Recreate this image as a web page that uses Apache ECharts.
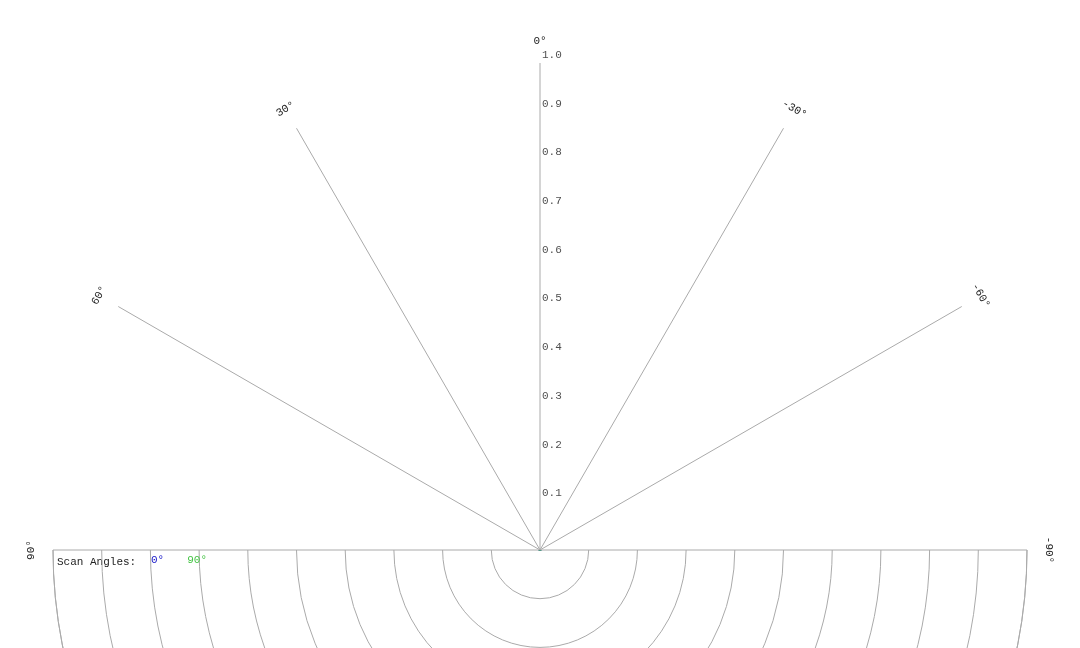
<!DOCTYPE html>
<html>
<head>
<meta charset="utf-8">
<script src="https://cdn.jsdelivr.net/npm/echarts@6/dist/echarts.min.js"></script>
<style>
  html, body { margin: 0; padding: 0; background: #fff; }
  #chart { width: 1080px; height: 648px; }
</style>
</head>
<body>
<div id="chart"></div>
<script>
// scan 0 deg (blue), [angle, radius]
const scan0 = [
  [-90, 0], [-58, 0], [-56, 0.15], [-54.8, 0.285], [-51.5, 0.319], [-48.4, 0.33], [-45, 0.318],
  [-42.3, 0.305], [-37, 0.30], [-32.6, 0.292], [-27, 0.297], [-22.3, 0.289], [-18, 0.30],
  [-14, 0.282], [-11, 0.31], [-8.6, 0.322], [-5.4, 0.292], [-3, 0.30], [0, 0.308], [2.6, 0.305],
  [5, 0.31], [7.9, 0.30], [12, 0.295], [16.1, 0.296], [20, 0.29], [23.6, 0.291], [28, 0.285],
  [32.1, 0.283], [35, 0.295], [38.5, 0.297], [42, 0.31], [45.2, 0.318], [48, 0.32], [50.3, 0.316],
  [52.5, 0.29], [54, 0.2], [55, 0.1], [57, 0], [90, 0]
];
// scan 90 deg (green)
const scan90 = [
  [-90, 0], [-58, 0], [-55.5, 0.1], [-54.5, 0.25], [-53.5, 0.392], [-52.3, 0.493], [-51.3, 0.597],
  [-49.8, 0.70], [-48.5, 0.795], [-46.6, 0.896], [-44.7, 0.963], [-43.9, 0.978], [-43.2, 0.98],
  [-41.1, 0.958], [-38.3, 0.906], [-34.4, 0.80], [-30.5, 0.695], [-26, 0.594], [-23.2, 0.521],
  [-21.6, 0.47], [-20, 0.45], [-18.5, 0.43], [-17, 0.42], [-15.5, 0.39], [-13.5, 0.353],
  [-10.2, 0.31], [-6.8, 0.315], [-4.7, 0.30], [-1, 0.333], [1, 0.31], [2.7, 0.305], [4.2, 0.336],
  [6, 0.31], [9.7, 0.305], [13.1, 0.316], [15.9, 0.375], [18.9, 0.445], [21, 0.49], [24.3, 0.548],
  [29.9, 0.699], [34.1, 0.794], [37.8, 0.905], [41.5, 0.98], [42.8, 0.997], [44.2, 1.0],
  [45.3, 0.987], [46.2, 0.958], [47.5, 0.89], [48.8, 0.80], [50.2, 0.695], [51.5, 0.594],
  [52.8, 0.498], [54.1, 0.397], [55, 0.25], [55.8, 0.1], [58, 0], [90, 0]
];
const radiusTicks = [0.1, 0.2, 0.3, 0.4, 0.5, 0.6, 0.7, 0.8, 0.9, 1.0];
const angleTicks = [90, 60, 30, 0, -30, -60, -90];
const seriesNames = ['0°', '90°'];
const colors = ['#1414c8', '#44c444'];

const cx = 540, cy = 550, R = 487;
const font = '"Liberation Mono", "DejaVu Sans Mono", monospace';

const chart = echarts.init(document.getElementById('chart'));

const angleLabels = angleTicks.map((a) => {
  const rad = a * Math.PI / 180;
  const d = R + 22;
  return {
    type: 'text',
    x: cx - d * Math.sin(rad),
    y: cy - d * Math.cos(rad),
    rotation: rad,
    style: { text: a + '°', font: '11px ' + font, fill: '#222', align: 'center', verticalAlign: 'middle' }
  };
});

chart.setOption({
  animation: false,
  polar: { center: [cx, cy], radius: R },
  angleAxis: {
    type: 'value', min: -90, max: 90, interval: 30, startAngle: 0, endAngle: 180,
    axisLine: { lineStyle: { color: '#aaa' } },
    axisTick: { show: false },
    axisLabel: { show: false },
    splitLine: { lineStyle: { color: '#aaa' } }
  },
  radiusAxis: {
    type: 'value', min: 0, max: 1, interval: 0.1,
    axisLine: { show: false }, axisTick: { show: false }, axisLabel: { show: false },
    splitLine: { lineStyle: { color: '#aaa' } }
  },
  legend: {
    left: 146, top: 553, icon: 'none', itemWidth: 0, itemGap: 18, padding: 0,
    textStyle: { fontFamily: font, fontSize: 11 },
    data: seriesNames.map((n, i) => ({ name: n, textStyle: { color: colors[i] } }))
  },
  graphic: angleLabels.concat([{
    type: 'text', left: 57, top: 557,
    style: { text: 'Scan Angles:', font: '11px ' + font, fill: '#222' }
  }]),
  series: [
    {
      name: seriesNames[0], type: 'line', coordinateSystem: 'polar', showSymbol: false, smooth: 0.3,
      lineStyle: { color: colors[0], width: 2 }, itemStyle: { color: colors[0] },
      data: scan0.map((p) => [p[1], p[0]])
    },
    {
      name: seriesNames[1], type: 'line', coordinateSystem: 'polar', showSymbol: false, smooth: 0.3,
      lineStyle: { color: colors[1], width: 2 }, itemStyle: { color: colors[1] },
      data: scan90.map((p) => [p[1], p[0]])
    },
    {
      type: 'scatter', coordinateSystem: 'polar', symbolSize: 0, silent: true, z: 1,
      label: {
        show: true, position: 'right', distance: 2, offset: [0, -8],
        fontFamily: font, fontSize: 11, color: '#222',
        formatter: (p) => p.value[0].toFixed(1)
      },
      data: radiusTicks.map((r) => [r, 0])
    }
  ]
});
</script>
</body>
</html>
